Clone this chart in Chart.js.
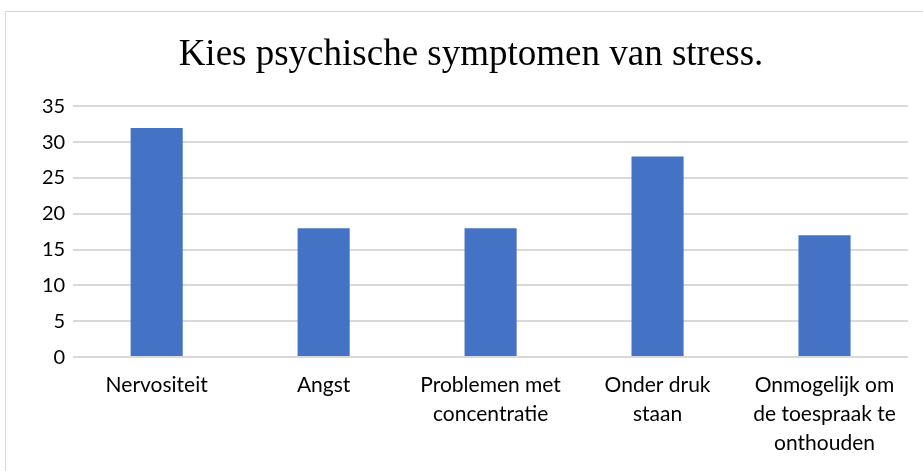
<!DOCTYPE html>
<html>
<head>
<meta charset="utf-8">
<script src="https://cdn.jsdelivr.net/npm/chart.js@4"></script>
<style>
  html, body { margin: 0; padding: 0; background: #fff; }
  #wrap { position: relative; width: 923px; height: 471px; overflow: hidden; }
  #frame { position: absolute; left: 5px; top: 11px; width: 960px; height: 500px; border: 1px solid #d9d9d9; }
  #box { position: absolute; left: 0; top: 0; width: 923px; height: 471px; }
</style>
</head>
<body>
<div id="wrap">
  <div id="frame"></div>
  <div id="box"><canvas id="myChart"></canvas></div>
</div>
<script>
// Chart data
const categories = [
  ['Nervositeit'],
  ['Angst'],
  ['Problemen met', 'concentratie'],
  ['Onder druk', 'staan'],
  ['Onmogelijk om', 'de toespraak te', 'onthouden']
];
const counts = [32, 18, 18, 28, 17];
const yTicks = [0, 5, 10, 15, 20, 25, 30, 35];

const ctx = document.getElementById('myChart').getContext('2d');
new Chart(ctx, {
  type: 'bar',
  data: {
    labels: categories,
    datasets: [{
      label: 'Aantal',
      data: counts,
      backgroundColor: '#4472C4',
      borderWidth: 0,
      categoryPercentage: 0.8,
      barPercentage: 0.39
    }]
  },
  options: {
    responsive: true,
    maintainAspectRatio: false,
    animation: false,
    layout: {
      padding: { left: 34, right: 15, top: 0, bottom: 7 }
    },
    plugins: {
      legend: { display: false },
      tooltip: { enabled: false },
      title: {
        display: true,
        text: 'Kies psychische symptomen van stress.',
        color: '#000',
        font: { family: '"Liberation Serif", "Times New Roman", serif', size: 37, weight: 'normal' },
        padding: { top: 33, bottom: 29 }
      }
    },
    scales: {
      x: {
        grid: { display: false },
        border: { display: false },
        ticks: {
          color: '#000',
          padding: 6,
          maxRotation: 0,
          autoSkip: false,
          font: { family: 'Lato, "Liberation Sans", sans-serif', size: 21, lineHeight: 1.38 }
        }
      },
      y: {
        min: yTicks[0],
        max: yTicks[yTicks.length - 1],
        afterBuildTicks: (axis) => {
          axis.ticks = yTicks.map(v => ({ value: v }));
        },
        grid: { color: '#d9d9d9', lineWidth: 2, drawTicks: false },
        border: { display: false },
        ticks: {
          color: '#000',
          padding: 8,
          font: { family: 'Lato, "Liberation Sans", sans-serif', size: 20 }
        }
      }
    }
  }
});
</script>
</body>
</html>
